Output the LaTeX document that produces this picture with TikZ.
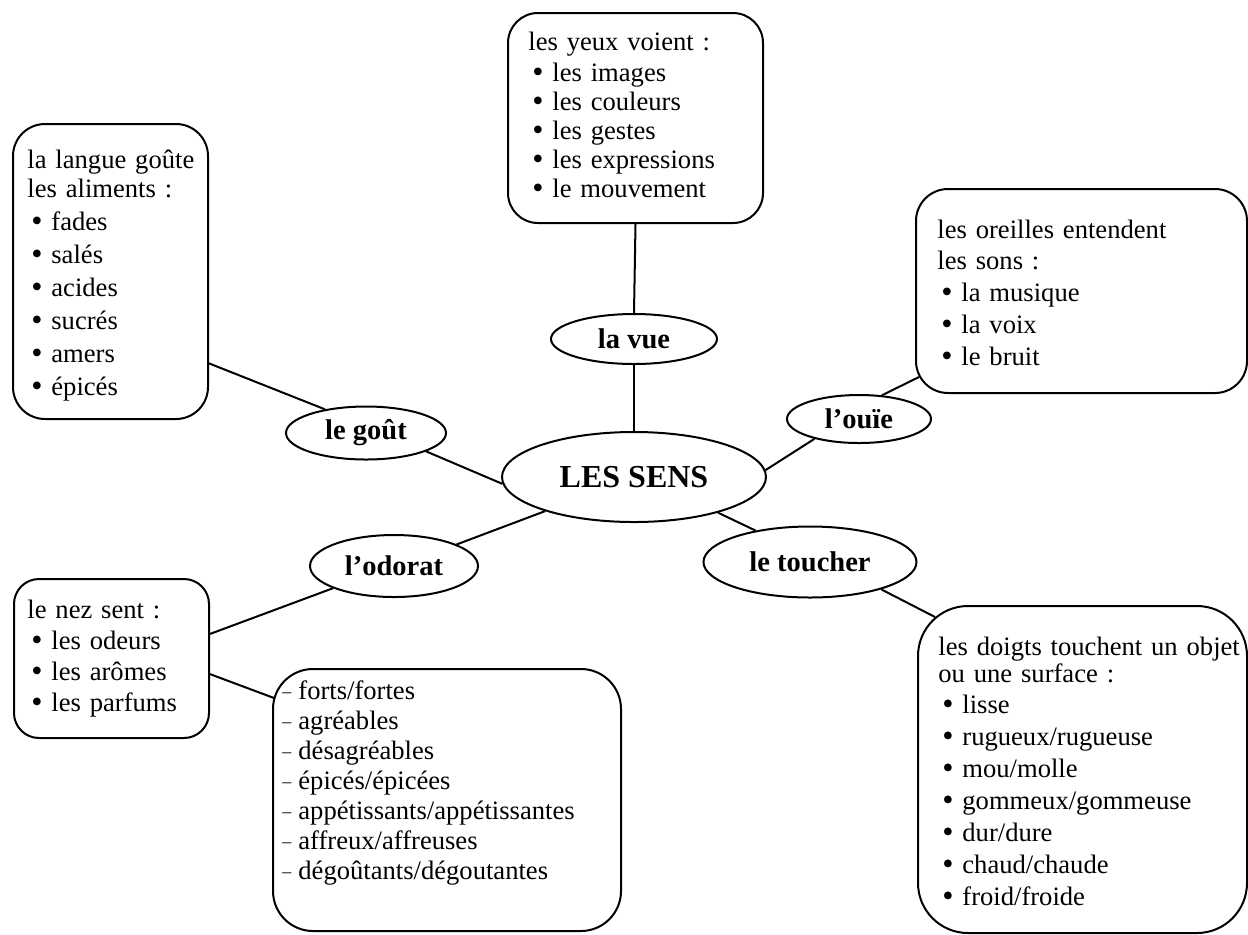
\documentclass[tikz,border=0pt]{standalone}
\usepackage{fontspec}
\setmainfont{Liberation Serif}
\usepackage{tikz}
\usetikzlibrary{shapes.geometric, positioning}

% bullet and dash items
\newcommand{\senspt}[1]{\makebox[12pt][l]{\hspace{2pt}\raisebox{-0.6pt}{\fontsize{16}{16}\selectfont •}}#1}
\newcommand{\sensdash}[1]{\makebox[8pt][l]{\raisebox{0.6pt}{\fontsize{9}{9}\selectfont –}}#1}

\begin{document}
\begin{tikzpicture}[
  x=0.5pt, y=-0.5pt,
  % ── Style definitions ──
  sbox/.style={draw, line width=1pt, rounded corners=#1,
    anchor=north west, inner sep=0pt},
  stxt/.style={anchor=base west, inner sep=0pt, align=left,
    text width=170pt, font=\fontsize{13.3}{#1}\selectfont},
  sense/.style={ellipse, draw, line width=1pt, inner sep=0pt,
    font=\fontsize{14.25}{16}\selectfont\bfseries},
  hub/.style={sense, font=\fontsize{16}{18}\selectfont\bfseries},
  link/.style={line width=1pt}
]
\useasboundingbox (0,0) rectangle (1248,934);

% ─────────── Centre and the five senses ──────────────────────
\node[hub,   minimum width=132pt,   minimum height=45pt]   (sens)    at (634,477) {LES SENS};
\node[sense, minimum width=83pt,    minimum height=25pt, above=33pt of sens] (vue) {la vue};
\node[sense, minimum width=80pt,    minimum height=26.5pt] (gout)    at (366,433) {le goût};
\node[sense, minimum width=72pt,    minimum height=24pt]   (ouie)    at (859,419) {l’ouïe};
\node[sense, minimum width=84pt,    minimum height=31pt]   (odorat)  at (394,566) {l’odorat};
\node[sense, minimum width=106.5pt, minimum height=35.5pt] (toucher) at (810,562) {le toucher};

% ─────────── Frames ──────────────────────────────────────────
\node[sbox=15pt,   minimum width=127.5pt, minimum height=105pt]   (vuebox)   at (507,12)  {};
\node[sbox=16pt,   minimum width=97.5pt,  minimum height=147.5pt] (goutbox)  at (12,123)  {};
\node[sbox=16pt,   minimum width=165.5pt, minimum height=102pt]   (ouiebox)  at (915,188) {};
\node[sbox=12.5pt, minimum width=97.5pt,  minimum height=79.5pt]  (nezbox)   at (13,578)  {};
\node[sbox=20pt,   minimum width=174pt,   minimum height=131pt]   (adjbox)   at (272,668) {};
\node[sbox=25pt,   minimum width=164.5pt, minimum height=163.5pt] (touchbox) at (917,605) {};

% ─────────── Frame texts ─────────────────────────────────────
\node[stxt=14.5pt] (vuetxt) at ([shift={(21,38)}]vuebox.north west)
  {les yeux voient :\\[1pt]
   \senspt{les images}\\ \senspt{les couleurs}\\ \senspt{les gestes}\\
   \senspt{les expressions}\\ \senspt{le mouvement}};
\node[stxt=16.5pt] (gouttxt) at ([shift={(15,45)}]goutbox.north west)
  {la langue goûte\\[-2pt] les aliments :\\
   \senspt{fades}\\ \senspt{salés}\\ \senspt{acides}\\
   \senspt{sucrés}\\ \senspt{amers}\\ \senspt{épicés}};
\node[stxt=16pt] (ouietxt) at ([shift={(22,50)}]ouiebox.north west)
  {les oreilles entendent\\[-0.5pt] les sons :\\
   \senspt{la musique}\\ \senspt{la voix}\\ \senspt{le bruit}};
\node[stxt=15.5pt] (neztxt) at ([shift={(14,40)}]nezbox.north west)
  {le nez sent :\\
   \senspt{les odeurs}\\ \senspt{les arômes}\\ \senspt{les parfums}};
\node[stxt=15pt] (adjtxt) at ([shift={(10,31)}]adjbox.north west)
  {\sensdash{forts/fortes}\\ \sensdash{agréables}\\ \sensdash{désagréables}\\
   \sensdash{épicés/épicées}\\ \sensdash{appétissants/appétissantes}\\
   \sensdash{affreux/affreuses}\\ \sensdash{dégoûtants/dégoutantes}};
\node[stxt=16pt] (touchtxt) at ([shift={(21,50)}]touchbox.north west)
  {les doigts touchent un objet\\[-2.5pt] ou une surface :\\[-0.5pt]
   \senspt{lisse}\\ \senspt{rugueux/rugueuse}\\ \senspt{mou/molle}\\
   \senspt{gommeux/gommeuse}\\ \senspt{dur/dure}\\
   \senspt{chaud/chaude}\\ \senspt{froid/froide}};

% ─────────── Connections ─────────────────────────────────────
\draw[link] (vuebox.south) -- (vue.north);
\draw[link] (vue.south)    -- (sens.north);
\draw[link] (goutbox.-43.5) -- (gout.150.7);
\draw[link] (gout.-17.3)    -- (sens.183);
\draw[link] ([shift={(4,-17)}]ouiebox.south west) -- (ouie.46);
\draw[link] (ouie.204)      -- (sens.3.9);
\draw[link] (sens.201.6)    -- (odorat.19.8);
\draw[link] (odorat.200.4)  -- (nezbox.14.1);
\draw[link] (nezbox.-9)     -- ([shift={(2,30)}]adjbox.north west);
\draw[link] (sens.-23.4)    -- (toucher.150.5);
\draw[link] (toucher.-21.8) -- ([shift={(18,12)}]touchbox.north west);
\end{tikzpicture}
\end{document}
